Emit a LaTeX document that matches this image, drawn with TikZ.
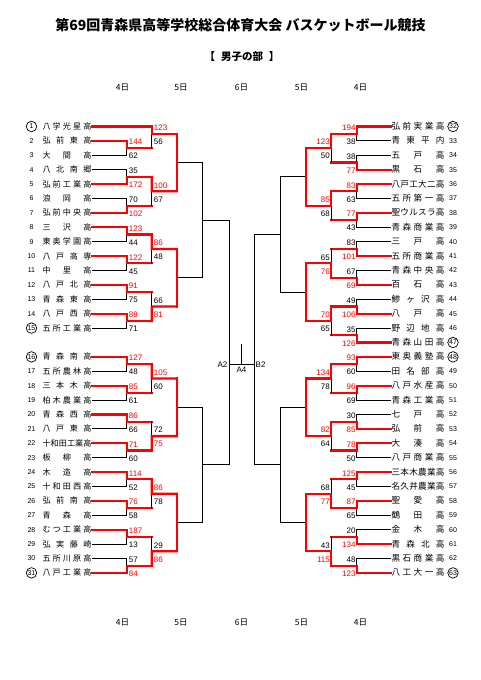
\documentclass[tikz,border=0pt]{standalone}
\usepackage{fontspec}
\setmainfont{Liberation Sans}
\newfontfamily\jp{Noto Sans CJK JP}
\usetikzlibrary{calc}
\tikzset{
  lose/.style={draw=black, line width=1pt, line cap=rect},
  win/.style={draw=red, line width=2.3pt, line cap=rect},
  team/.style={inner xsep=0.8pt, inner ysep=0pt, text height=6.4pt, text depth=0.6pt},
  lteam/.style={team, anchor=west, font=\jp\fontsize{8.1}{9}\selectfont},
  rteam/.style={team, anchor=east, font=\jp\fontsize{8.6}{9}\selectfont},
  num/.style={font=\fontsize{7}{8}\selectfont, inner sep=0pt},
  numc/.style={num, draw, circle, minimum size=10.5pt, line width=0.7pt},
  sc/.style={font=\fontsize{8}{9}\selectfont, inner sep=0pt, text=#1},
  day/.style={font=\jp\fontsize{8.5}{9}\selectfont},
  lbl/.style={font=\fontsize{8}{9}\selectfont, inner sep=0pt}
}
\newcommand\lname[1]{\makebox[49pt][s]{\spaceskip=0pt plus 1fil\relax #1}}
\newcommand\rname[1]{\makebox[53pt][s]{\spaceskip=0pt plus 1fil\relax #1}}

\begin{document}
\begin{tikzpicture}[x=1pt, y=-1pt]
	\useasboundingbox (0,0) rectangle (481,680);

	% headings
	\node [font=\jp\bfseries\fontsize{14}{16}\selectfont] (title) at (240.5,25) {第69回青森県高等学校総合体育大会 バスケットボール競技};
	\node [font=\jp\bfseries\fontsize{10.5}{12}\selectfont] (sub) at (242,57) {【\hspace{0.55em}男子の部\hspace{0.55em}】};
	\foreach \x/\d [count=\i] in {122.5/4, 181/5, 241.5/6, 301.5/5, 360.5/4} {
		\node [day] (dt\i) at (\x,87.7) {\d 日};
		\node [day] (db\i) at (\x,622.3) {\d 日};
	}

	% columns
	\coordinate (L1) at (126.7,0);
	\coordinate (L2) at (151.7,0);
	\coordinate (L3) at (176.7,0);
	\coordinate (L4) at (202.3,0);
	\coordinate (LF) at (229,0);
	\coordinate (R1) at (356.7,0);
	\coordinate (R2) at (331,0);
	\coordinate (R3) at (305.7,0);
	\coordinate (R4) at (280,0);
	\coordinate (RF) at (254,0);

	% teams, left
	\foreach \n/\k/\nm in {1/numc/八 学 光 星 高, 2/num/弘 前 東 高, 3/num/大 間 高, 4/num/八 北 南 郷,
		5/num/弘 前 工 業 高, 6/num/浪 岡 高, 7/num/弘 前 中 央 高, 8/num/三 沢 高, 9/num/東 奥 学 園 高,
		10/num/八 戸 高 専, 11/num/中 里 高, 12/num/八 戸 北 高, 13/num/青 森 東 高, 14/num/八 戸 西 高,
		15/numc/五 所 工 業 高, 16/numc/青 森 南 高, 17/num/五 所 農 林 高, 18/num/三 本 木 高,
		19/num/柏 木 農 業 高, 20/num/青 森 西 高, 21/num/八 戸 東 高, 22/num/十 和 田 工 業 高,
		23/num/板 柳 高, 24/num/木 造 高, 25/num/十 和 田 西 高, 26/num/弘 前 南 高, 27/num/青 森 高,
		28/num/む つ 工 業 高, 29/num/弘 実 藤 崎, 30/num/五 所 川 原 高, 31/numc/八 戸 工 業 高} {
		\pgfmathsetmacro\yy{126.5+14.4*(\n-1+(\n>15))}
		\node [\k] (n\n) at (31.5,\yy) {\n};
		\node [lteam] (t\n) at (41.5,\yy) {\lname{\nm}};
	}

	% teams, right
	\foreach \n/\k/\nm in {32/numc/弘 前 実 業 高, 33/num/青 東 平 内, 34/num/五 戸 高, 35/num/黒 石 高,
		36/num/八 戸 工 大 二 高, 37/num/五 所 第 一 高, 38/num/聖 ウ ル ス ラ 高, 39/num/青 森 商 業 高,
		40/num/三 戸 高, 41/num/五 所 商 業 高, 42/num/青 森 中 央 高, 43/num/百 石 高, 44/num/鯵 ヶ 沢 高,
		45/num/八 戸 高, 46/num/野 辺 地 高, 47/numc/青 森 山 田 高, 48/numc/東 奥 義 塾 高,
		49/num/田 名 部 高, 50/num/八 戸 水 産 高, 51/num/青 森 工 業 高, 52/num/七 戸 高, 53/num/弘 前 高,
		54/num/大 湊 高, 55/num/八 戸 商 業 高, 56/num/三 本 木 農 業 高, 57/num/名 久 井 農 業 高,
		58/num/聖 愛 高, 59/num/鶴 田 高, 60/num/金 木 高, 61/num/青 森 北 高, 62/num/黒 石 商 業 高,
		63/numc/八 工 大 一 高} {
		\pgfmathsetmacro\yy{126.5+14.4*(\n-32)}
		\node [\k] (n\n) at (453,\yy) {\n};
		\node [rteam] (t\n) at (445.5,\yy) {\rname{\nm}};
	}

	% first round, left
	\foreach \a/\b/\w/\sa/\sb in {2/3/1/144/62, 4/5/2/35/172, 6/7/2/70/102, 8/9/1/123/44, 10/11/1/122/45,
		12/13/1/91/75, 14/15/1/89/71, 16/17/1/127/48, 18/19/1/85/61, 20/21/1/86/66, 22/23/1/71/60,
		24/25/1/114/52, 26/27/1/76/58, 28/29/1/187/13, 30/31/2/57/84} {
		\ifnum\w=1 \edef\wt{\a}\def\ka{red}\def\kb{black}\else \edef\wt{\b}\def\ka{black}\def\kb{red}\fi
		\coordinate (p\a) at ($(t\a.east -| L1)!.5!(t\b.east -| L1)$);
		\draw [lose] (t\a.east) -| (p\a) |- (t\b.east);
		\draw [win] (t\wt.east) -| (p\a) -- (p\a -| L2);
		\node [sc=\ka, anchor=west] at ([shift={(2pt,6pt)}]p\a) {\sa};
		\node [sc=\kb, anchor=west] at ([shift={(2pt,-8pt)}]p\a) {\sb};
	}

	% first round, right
	\foreach \a/\b/\w/\sa/\sb in {32/33/1/194/38, 34/35/2/38/77, 36/37/1/83/63, 38/39/1/77/43,
		40/41/2/83/101, 42/43/2/67/69, 44/45/2/49/106, 46/47/2/35/126, 48/49/1/93/60, 50/51/1/96/69,
		52/53/2/30/85, 54/55/1/78/50, 56/57/1/125/45, 58/59/1/87/65, 60/61/2/20/134, 62/63/2/48/123} {
		\ifnum\w=1 \edef\wt{\a}\def\ka{red}\def\kb{black}\else \edef\wt{\b}\def\ka{black}\def\kb{red}\fi
		\coordinate (p\a) at ($(t\a.west -| R1)!.5!(t\b.west -| R1)$);
		\draw [lose] (t\a.west) -| (p\a) |- (t\b.west);
		\draw [win] (t\wt.west) -| (p\a) -- (p\a -| R2);
		\node [sc=\ka, anchor=east] at ([shift={(-1pt,6pt)}]p\a) {\sa};
		\node [sc=\kb, anchor=east] at ([shift={(-1pt,-8pt)}]p\a) {\sb};
	}

	% second round, left (team 1 has a bye)
	\coordinate (q1) at ($(t1.east -| L2)!.5!(t2.east -| L2)$);
	\draw [lose] (t1.east -| L2) -- (p2 -| L2);
	\draw [win] (t1.east) -| (q1) -- (q1 -| L3);
	\node [sc=red, anchor=west] at ([shift={(2pt,6pt)}]q1) {123};
	\node [sc=black, anchor=west] at ([shift={(2pt,-8pt)}]q1) {56};
	\foreach \p/\q/\w/\sa/\sb in {4/6/1/100/67, 8/10/1/86/48, 12/14/2/66/81, 16/18/1/105/60,
		20/22/2/72/75, 24/26/1/86/78, 28/30/2/29/86} {
		\ifnum\w=1 \edef\wt{\p}\def\ka{red}\def\kb{black}\else \edef\wt{\q}\def\ka{black}\def\kb{red}\fi
		\coordinate (q\p) at ($(p\p -| L2)!.5!(p\q -| L2)$);
		\draw [lose] (p\p -| L2) -- (p\q -| L2);
		\draw [win] (p\wt -| L2) -- (q\p) -- (q\p -| L3);
		\node [sc=\ka, anchor=west] at ([shift={(2pt,6pt)}]q\p) {\sa};
		\node [sc=\kb, anchor=west] at ([shift={(2pt,-8pt)}]q\p) {\sb};
	}

	% second round, right
	\foreach \p/\q/\w/\sa/\sb in {32/34/1/123/50, 36/38/1/85/68, 40/42/2/65/76, 44/46/1/70/65,
		48/50/1/134/78, 52/54/1/82/64, 56/58/2/68/77, 60/62/2/43/115} {
		\ifnum\w=1 \edef\wt{\p}\def\ka{red}\def\kb{black}\else \edef\wt{\q}\def\ka{black}\def\kb{red}\fi
		\coordinate (q\p) at ($(p\p -| R2)!.5!(p\q -| R2)$);
		\draw [lose] (p\p -| R2) -- (p\q -| R2);
		\draw [win] (p\wt -| R2) -- (q\p) -- (q\p -| R3);
		\node [sc=\ka, anchor=east] at ([shift={(-1pt,6pt)}]q\p) {\sa};
		\node [sc=\kb, anchor=east] at ([shift={(-1pt,-8pt)}]q\p) {\sb};
	}

	% third round
	\foreach \p/\q in {1/4, 8/12, 16/20, 24/28} {
		\coordinate (s\p) at ($(q\p -| L3)!.5!(q\q -| L3)$);
		\draw [lose] (s\p) -- (s\p -| L4);
		\draw [win] (q\p -| L3) -- (q\q -| L3);
	}
	\foreach \p/\q in {32/36, 40/44, 48/52, 56/60} {
		\coordinate (s\p) at ($(q\p -| R3)!.5!(q\q -| R3)$);
		\draw [lose] (s\p) -- (s\p -| R4);
		\draw [win] (q\p -| R3) -- (q\q -| R3);
	}

	% fourth round
	\foreach \p/\q in {1/8, 16/24} {
		\coordinate (u\p) at ($(s\p -| L4)!.5!(s\q -| L4)$);
		\draw [lose] (s\p -| L4) -- (s\q -| L4);
	}
	\foreach \p/\q in {32/40, 48/56} {
		\coordinate (u\p) at ($(s\p -| R4)!.5!(s\q -| R4)$);
		\draw [lose] (s\p -| R4) -- (s\q -| R4);
	}

	% final
	\coordinate (FA) at (229,364.3);
	\coordinate (FB) at (254,364.3);
	\coordinate (fmid) at ($(FA)!.5!(FB)$);
	\draw [lose] (u1) -- (u1 -| LF) -- (u16 -| LF) -- (u16);
	\draw [lose] (u32) -- (u32 -| RF) -- (u48 -| RF) -- (u48);
	\draw [lose] (FA) -- (FB);
	\draw [lose] (fmid) -- ++(0,-20.3);
	\node [lbl, anchor=east] (a2) at ([xshift=-1.5pt]FA) {A2};
	\node [lbl, anchor=west] (b2) at ([xshift=1.5pt]FB) {B2};
	\node [lbl, anchor=north] (a4) at ([yshift=-2.5pt]fmid) {A4};
\end{tikzpicture}
\end{document}
